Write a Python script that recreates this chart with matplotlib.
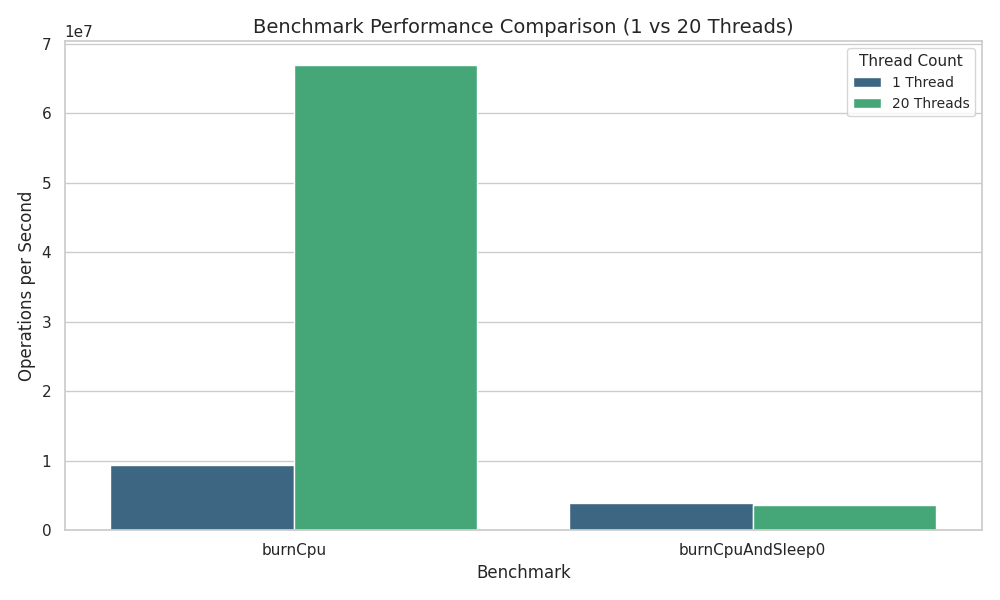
import matplotlib
matplotlib.use("Agg")
import matplotlib.pyplot as plt
import seaborn as sns
import pandas as pd

# 基准测试数据
benchmarks = ["burnCpu", "burnCpu", "burnCpuAndSleep0", "burnCpuAndSleep0"]
threads = ["1 Thread", "20 Threads", "1 Thread", "20 Threads"]
ops_per_sec = [9.4e6, 6.7e7, 3.85e6, 3.7e6]

df = pd.DataFrame({"Benchmark": benchmarks, "Threads": threads, "Ops": ops_per_sec})

sns.set_theme(style="whitegrid")
fig, ax = plt.subplots(figsize=(10, 6), dpi=100)
sns.barplot(data=df, x="Benchmark", y="Ops", hue="Threads", palette="viridis", ax=ax)

ax.set_title("Benchmark Performance Comparison (1 vs 20 Threads)", fontsize=14)
ax.set_xlabel("Benchmark")
ax.set_ylabel("Operations per Second")
ax.legend(title="Thread Count", loc="upper right", fontsize=10, title_fontsize=11)

plt.tight_layout()
plt.savefig("out.png")
